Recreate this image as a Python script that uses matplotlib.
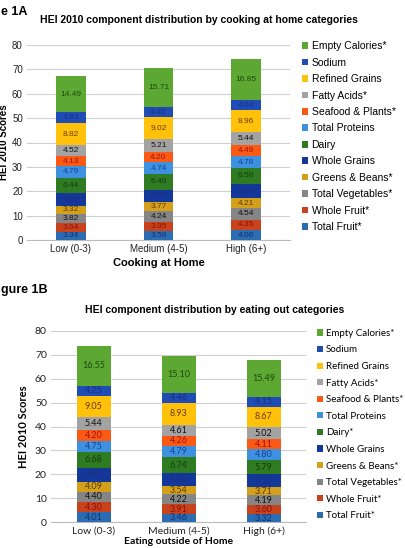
import matplotlib
matplotlib.use('Agg')
import matplotlib.pyplot as plt
import numpy as np

# components, bottom of the stack first
components_a = ['Total Fruit*', 'Whole Fruit*', 'Total Vegetables*', 'Greens & Beans*',
                'Whole Grains', 'Dairy', 'Total Proteins', 'Seafood & Plants*',
                'Fatty Acids*', 'Refined Grains', 'Sodium', 'Empty Calories*']
components_b = ['Total Fruit*', 'Whole Fruit*', 'Total Vegetables*', 'Greens & Beans*',
                'Whole Grains', 'Dairy*', 'Total Proteins', 'Seafood & Plants*',
                'Fatty Acids*', 'Refined Grains', 'Sodium', 'Empty Calories*']

cats_a = ['Low (0-3)', 'Medium (4-5)', 'High (6+)']
cats_b = ['Low (0-3)', 'Medium (4-5)', 'High (6+)']

# Figure 1A: cooking at home (one list per category, components bottom->top)
cook_low  = [3.34, 3.64, 3.82, 3.32, 4.98, 6.44, 4.79, 4.13, 4.52, 8.82, 4.83, 14.49]
cook_med  = [3.58, 3.95, 4.24, 3.77, 5.06, 6.49, 4.74, 4.20, 5.21, 9.02, 4.45, 15.71]
cook_high = [4.06, 4.35, 4.54, 4.21, 5.84, 6.58, 4.78, 4.49, 5.44, 8.96, 4.04, 16.85]

# Figure 1B: eating outside of home
out_low  = [4.01, 4.30, 4.40, 4.09, 5.90, 6.68, 4.75, 4.20, 5.44, 9.05, 4.25, 16.55]
out_med  = [3.46, 3.91, 4.22, 3.54, 5.30, 6.74, 4.79, 4.26, 4.61, 8.93, 4.46, 15.10]
out_high = [3.32, 3.60, 4.19, 3.71, 5.15, 5.79, 4.80, 4.11, 5.02, 8.67, 4.15, 15.49]

colors = ['#2B6CB3', '#C8431B', '#858585', '#D4A01C', '#14379A', '#2F7B22',
          '#3D91DE', '#FB5A14', '#A3A3A3', '#FFC10A', '#1F4DB5', '#5CA833']
txt_colors = ['#13306E', '#8A0F0F', '#111111', '#5A3D00', '#1A2F80', '#163D10',
              '#1C3F9A', '#A01010', '#111111', '#6B3A00', '#1A2F80', '#1D4A10']

W, H = 405, 548
fig = plt.figure(figsize=(W / 100, H / 100), dpi=100)
fig.patch.set_facecolor('white')


def px(x0, y0, x1, y1):
    # pixel box (top-left origin) -> figure fractions
    return [x0 / W, 1 - y1 / H, (x1 - x0) / W, (y1 - y0) / H]


def stacked(ax, cats, rows, labels, family, width, fs, tfs):
    data = np.array(rows)
    x = np.arange(len(cats))
    bottom = np.zeros(len(cats))
    handles = []
    for j in range(data.shape[1]):
        vals = data[:, j]
        b = ax.bar(x, vals, width, bottom=bottom, color=colors[j], label=labels[j], zorder=3)
        handles.append(b)
        for xi, v, bt in zip(x, vals, bottom):
            ax.text(xi, bt + v / 2, '%.2f' % v, ha='center', va='center',
                    fontsize=fs, color=txt_colors[j], family=family, zorder=4)
        bottom += vals
    ax.set_xticks(x)
    ax.set_xticklabels(cats, family=family)
    ax.set_ylim(0, 80)
    ax.set_yticks(range(0, 81, 10))
    ax.set_xlim(-0.5, len(cats) - 0.5)
    ax.grid(axis='y', color='#D0D0D0', lw=0.8, zorder=0)
    for s in ['top', 'right', 'left']:
        ax.spines[s].set_visible(False)
    ax.spines['bottom'].set_color('#BBBBBB')
    ax.tick_params(length=0, labelsize=tfs, colors='#222222', pad=3)
    for t in ax.get_yticklabels():
        t.set_family(family)
    return handles


# ---- Figure 1A
fam_a = 'Liberation Sans'
ax1 = fig.add_axes(px(27, 45, 290, 240))
h1 = stacked(ax1, cats_a, [cook_low, cook_med, cook_high], components_a, fam_a, 0.34, 6, 7)
ax1.set_xlabel('Cooking at Home', family=fam_a, fontsize=8, fontweight='bold', labelpad=3)
ax1.set_ylabel('HEI 2010 Scores', family=fam_a, fontsize=7, fontweight='bold', labelpad=2)
ax1.legend(h1[::-1], [h.get_label() for h in h1[::-1]],
           loc='upper left', bbox_to_anchor=(298 / W, 1 - 37 / H),
           bbox_transform=fig.transFigure, frameon=False,
           prop={'family': fam_a, 'size': 7.5}, handlelength=0.6, handleheight=0.6,
           handletextpad=0.3, labelspacing=0.62, borderaxespad=0)
fig.text(1 / W, 1 - 12 / H, 'e 1A', family=fam_a, fontsize=9, fontweight='bold', va='center')
fig.text(40 / W, 1 - 20 / H, 'HEI 2010 component distribution by cooking at home categories',
         family=fam_a, fontsize=7.5, fontweight='bold', va='center')

# ---- Figure 1B
fam_b = 'Lato'
ax2 = fig.add_axes(px(51, 331, 306, 522))
h2 = stacked(ax2, cats_b, [out_low, out_med, out_high], components_b, fam_b, 0.4, 6.5, 7.5)
ax2.set_xlabel('Eating outside of Home', family=fam_b, fontsize=7.5, fontweight='bold', labelpad=1)
ax2.set_ylabel('HEI 2010 Scores', family=fam_b, fontsize=8, fontweight='bold', labelpad=4)
ax2.legend(h2[::-1], [h.get_label() for h in h2[::-1]],
           loc='upper left', bbox_to_anchor=(313 / W, 1 - 325 / H),
           bbox_transform=fig.transFigure, frameon=False,
           prop={'family': fam_b, 'size': 7}, handlelength=0.6, handleheight=0.6,
           handletextpad=0.3, labelspacing=0.78, borderaxespad=0)
fig.text(1 / W, 1 - 290 / H, 'gure 1B', family=fam_a, fontsize=9, fontweight='bold', va='center')
fig.text(85 / W, 1 - 310 / H, 'HEI component distribution by eating out categories',
         family=fam_a, fontsize=7.5, fontweight='bold', va='center')

fig.savefig('out.png', dpi=100)
